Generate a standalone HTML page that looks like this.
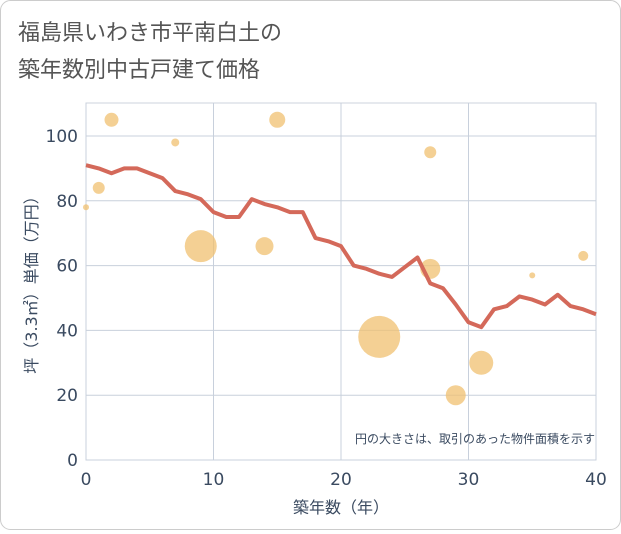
<!DOCTYPE html>
<html><head><meta charset="utf-8"><style>
body{margin:0;background:#fff;}
#wrap{width:621px;height:530px;position:relative;font-family:"DejaVu Sans","Noto Sans CJK JP",sans-serif;}
</style></head><body>
<div id="wrap">
<svg id="c" width="621" height="530" xmlns="http://www.w3.org/2000/svg">
<rect x="0.5" y="0.5" width="620" height="529" rx="10" fill="#fff" stroke="#ccc"/>
<text x="18" y="40" font-size="22" fill="#555">福島県いわき市平南白土の</text>
<text x="18" y="77" font-size="22" fill="#555">築年数別中古戸建て価格</text>
<g id="grid"></g><g id="bubbles"></g><g id="line"></g><g id="axes"></g>
<text x="595" y="443" font-size="12" fill="#3a4a60" text-anchor="end">円の大きさは、取引のあった物件面積を示す</text>
<text x="341" y="513" font-size="16" fill="#3a4a60" text-anchor="middle">築年数（年）</text>
<text transform="translate(37,281) rotate(-90)" font-size="16" fill="#3a4a60" text-anchor="middle">坪（3.3㎡）単価（万円）</text>
</svg></div>
<script>
const xTicks=[0,10,20,30,40];
const yTicks=[0,20,40,60,80,100];
const lineYears=[0,1,2,3,4,5,6,7,8,9,10,11,12,13,14,15,16,17,18,19,20,21,22,23,24,25,26,27,28,29,30,31,32,33,34,35,36,37,38,39,40];
const linePrices=[91,90,88.5,90,90,88.5,87,83,82,80.5,76.5,75,75,80.5,79,78,76.5,76.5,68.5,67.5,66,60,59,57.5,56.5,59.5,62.5,54.5,53,48,42.5,41,46.5,47.5,50.5,49.5,48,51,47.5,46.5,45];
const bubbleYears=[0,1,2,7,9,14,15,23,27,27,29,31,35,39];
const bubblePrices=[78,84,105,98,66,66,105,38,95,59,20,30,57,63];
const bubbleSizes=[3,6,7,4,16,9,8,21,6,10,10,12,3,5];
const NS="http://www.w3.org/2000/svg";
const X0=86,X1=596,Y0=460,Y1=103;
const sx=v=>X0+(X1-X0)*v/40;
const sy=v=>Y0-(Y0-136)*v/100;
function mk(t,a,p){const e=document.createElementNS(NS,t);for(const k in a)e.setAttribute(k,a[k]);p.appendChild(e);return e;}
const g=document.getElementById('grid'),ax=document.getElementById('axes');
const bg=mk('rect',{x:X0,y:Y1,width:X1-X0,height:Y0-Y1,fill:'#fff',stroke:'#ccd3dd'},g);


xTicks.forEach(v=>{const l=mk('line',{x1:sx(v),x2:sx(v),y1:Y1,y2:Y0,stroke:'#c8d0dc'},g);


const t=mk('text',{x:sx(v),y:Y0+25,'font-size':17,fill:'#3a4a60','text-anchor':'middle'},ax);t.textContent=v;

});
yTicks.forEach(v=>{const l=mk('line',{x1:X0,x2:X1,y1:sy(v),y2:sy(v),stroke:'#c8d0dc'},g);


const t=mk('text',{x:X0-8,y:sy(v)+6,'font-size':17,fill:'#3a4a60','text-anchor':'end'},ax);t.textContent=v;

});
const b=document.getElementById('bubbles');
bubbleYears.forEach((v,i)=>{const c=mk('circle',{cx:sx(v),cy:sy(bubblePrices[i]),r:bubbleSizes[i],fill:'#f0c070','fill-opacity':0.75},b);

});
const pts=lineYears.map((v,i)=>sx(v)+','+sy(linePrices[i])).join(' ');
const pl=mk('polyline',{points:pts,fill:'none',stroke:'#d4695a','stroke-width':4,'stroke-linejoin':'round'},document.getElementById('line'));


</script>
</body></html>
